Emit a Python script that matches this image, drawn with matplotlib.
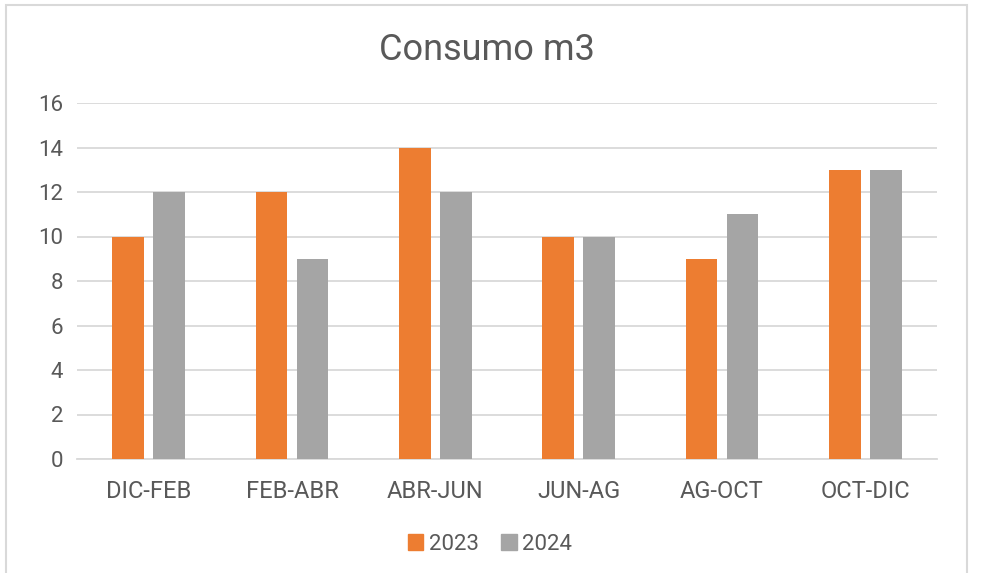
import numpy as np
import matplotlib.pyplot as plt
from matplotlib.patches import Rectangle, Patch

periods = ['DIC-FEB', 'FEB-ABR', 'ABR-JUN', 'JUN-AG', 'AG-OCT', 'OCT-DIC']
vals_2023 = [10, 12, 14, 10, 9, 13]
vals_2024 = [12, 9, 12, 10, 11, 13]
years = ['2023', '2024']

orange = '#ed7d31'
grey = '#a5a5a5'
txt = '#595959'

plt.rcParams['font.family'] = ['Roboto', 'DejaVu Sans']

fig = plt.figure(figsize=(9.87, 5.73), dpi=100)
ax = fig.add_axes([77/987, 1 - 459/573, 860/987, 356/573])

x = np.arange(len(periods))
w = 0.223
off = (w + 9/143.3) / 2
ax.bar(x - off, vals_2023, w, color=orange, zorder=3)
ax.bar(x + off, vals_2024, w, color=grey, zorder=3)

ax.set_xlim(-0.5, len(periods) - 0.5)
ax.set_ylim(0, 16)
ax.set_yticks(range(0, 17, 2))
ax.set_xticks(x)
ax.set_xticklabels(periods)
ax.yaxis.grid(True, color='#d9d9d9', linewidth=1.3, zorder=0)
for s in ['top', 'right', 'left']:
    ax.spines[s].set_visible(False)
ax.spines['bottom'].set_color('#d9d9d9')
ax.spines['bottom'].set_linewidth(1.3)
ax.tick_params(axis='both', length=0, labelsize=16, colors=txt)
ax.tick_params(axis='x', pad=15, labelsize=17)
ax.tick_params(axis='y', pad=10)

fig.text(487/987, 1 - 50/573, 'Consumo m3', ha='center', va='center',
         fontsize=26, color=txt)

handles = [Patch(color=orange), Patch(color=grey)]
fig.legend(handles, years, loc='center', bbox_to_anchor=(490/987, 1 - 544/573),
           ncol=2, frameon=False, fontsize=16, labelcolor=txt,
           handlelength=0.7, handleheight=0.7, handletextpad=0.25, columnspacing=1.0)

fig.add_artist(Rectangle((6/987, -0.05), 961/987, 1.05 - 5/573, transform=fig.transFigure,
                         fill=False, edgecolor='#d9d9d9', linewidth=1.5))

fig.savefig('out.png', dpi=100)
